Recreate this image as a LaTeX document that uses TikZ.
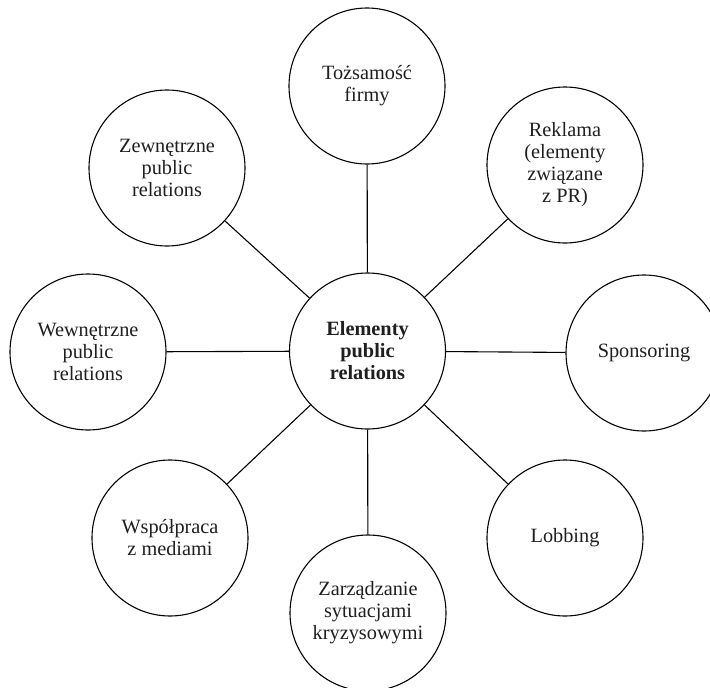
\documentclass[tikz,border=0pt]{standalone}
\usepackage{fontspec}
\setmainfont{Liberation Serif}
\begin{document}
\begin{tikzpicture}[x=1pt,y=-1pt,
  bubble/.style={circle,draw=black,line width=1.1pt,minimum size=156pt,inner sep=0pt,
    align=center,text=black!88,font=\fontsize{20.3}{22}\selectfont},
  hub/.style={bubble,font=\fontsize{20.3}{22}\selectfont\bfseries},
  spoke/.style={line width=1.1pt,draw=black}]
\useasboundingbox (0,0) rectangle (710,688);
% central node
\node[hub] (c) at (367.5,351) {Elementy\\public\\relations};
% surrounding nodes
\node[bubble] (n)  at (367,86)  {Tożsamość\\firmy};
\node[bubble] (ne) at (565,165) {Reklama\\(elementy\\związane\\z PR)};
\node[bubble] (e)  at (644,353) {Sponsoring};
\node[bubble] (se) at (565,538) {Lobbing};
\node[bubble] (s)  at (368,613) {Zarządzanie\\sytuacjami\\kryzysowymi};
\node[bubble] (sw) at (170,538) {Współpraca\\z mediami};
\node[bubble] (w)  at (88,352)  {Wewnętrzne\\public\\relations};
\node[bubble] (nw) at (167,168) {Zewnętrzne\\public\\relations};
% spokes
\foreach \t in {n,ne,e,se,s,sw,w,nw}
  \draw[spoke] (c) -- (\t);
\end{tikzpicture}
\end{document}
